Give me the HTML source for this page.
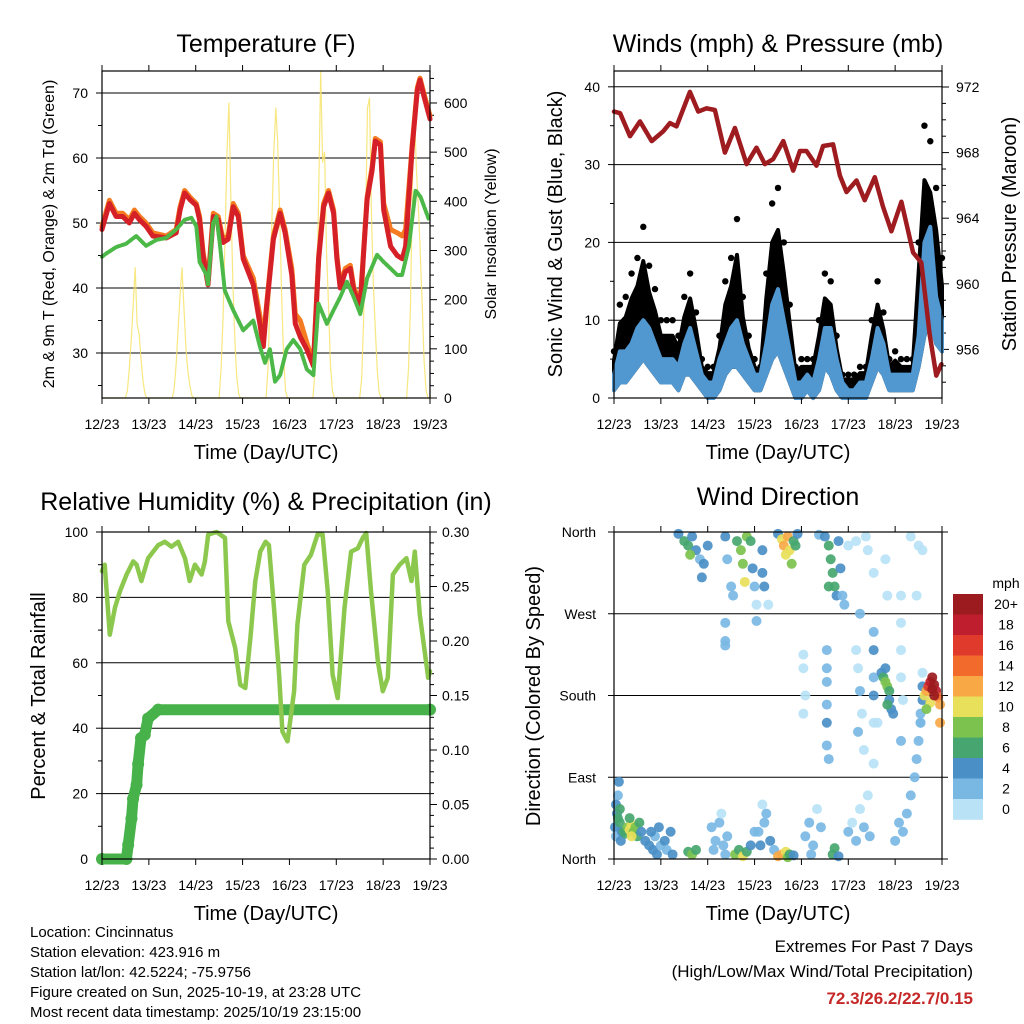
<!DOCTYPE html>
<html><head><meta charset="utf-8"><style>
html,body{margin:0;padding:0;background:#fff;}
svg{display:block;font-family:"Liberation Sans",Arial,sans-serif;}
</style></head><body>
<svg id="c" width="1024" height="1024" viewBox="0 0 1024 1024" xmlns="http://www.w3.org/2000/svg"></svg>
<script>
// ---------- Temperature ----------
const tempHours=[0,3.8,7.2,10.6,14,16.6,19.2,22.6,26,33,38,40,42.3,45,48.3,50,51.8,54.3,57,59.5,62,64.6,67.2,69.8,72.3,77.5,81,82.6,84.3,87.8,91.2,93.8,97.2,99,101.5,105,108.3,111,113.5,116,118.6,120.3,122,124.6,127.2,129,132.3,135.8,138.3,140,142.6,144.3,147.8,151.2,153.8,155.5,158.9,161.5,162.9,165,168];
const tempRed=[49,53,51,51,50,51.5,50.5,49.5,48,47.7,48.5,52,54.6,53.6,52.7,50.5,45,40.5,51,50.5,47,47.5,52.5,51,44.5,40.5,34.3,31,37,47.5,51.5,48.5,42,34.5,32.5,30.5,28,44.5,52.5,54.6,51.5,44.5,40,42.5,43,39.5,37.5,53.6,58,62.6,62,52,46.4,45,44.5,46.4,61.6,70.4,72,69.4,66];
const tempOrange=[49.5,53.5,51.5,51.5,50.5,52,51,50,48.5,48,49,52.5,55,54,53,51,45.5,41,51.5,51,47.5,48,53,51.5,45,41.5,35.5,32,37.5,48,52,49,43,36,35,31.5,28.5,45,53,55,52,45,40.5,43,43.5,40,38,54,58.5,63,62.5,53,49,48.5,48,49,62,70.8,72.3,69.8,66.5];
const dewHours=[0,2.1,7.2,12.3,17.5,22.6,27.8,32.9,38,42.3,45.8,48.3,50,53.5,54.3,56.9,58.6,60.3,62.9,67.2,72.3,77.5,80.9,83.5,86,88.6,91.2,94.6,98,101.5,104.9,108.3,110.9,115.2,118.6,122,125.5,128.9,132.3,135.8,140.9,144.3,147.8,151.2,153.7,157.2,160.6,163.2,167.5];
const dewVals=[44.8,45.3,46.3,46.8,48,46.5,47.4,47.7,49,50.5,50.8,49.5,44,42,40.5,50,51,47,39.6,36.6,33.5,35,31,28.5,30.6,25.6,26.6,30.6,32,30.6,27.5,26.6,37.6,34.5,36.6,38.6,41,38.6,36,41.5,45.1,44,43,42,42,46.4,55,54,50.5];
const solarVals=[
0,0,0,0,0,0,0,0,0,0,0,0, 0,15,60,120,190,265,150,130,80,35,8,0,
0,0,0,0,0,0,0,0,0,0,0,0, 0,20,70,140,210,265,180,100,55,25,5,0,
0,0,0,0,0,0,0,0,0,0,0,0, 0,60,160,320,500,600,400,240,120,45,8,0,
0,0,0,0,0,0,0,0,0,0,0,0, 0,60,200,360,500,590,520,370,210,85,15,0,
0,0,0,0,0,0,0,0,0,0,0,0, 0,50,200,420,665,480,500,300,190,70,15,0,
0,0,0,0,0,0,0,0,0,0,0,0, 0,40,160,360,590,610,380,230,140,55,10,0,
0,0,0,0,0,0,0,0,0,0,0,0, 0,60,190,430,590,470,390,300,190,75,15,0,
0];
const tempTicks=[30,40,50,60,70];
const solarTicks=[0,100,200,300,400,500,600];
const dayLabels=["12/23","13/23","14/23","15/23","16/23","17/23","18/23","19/23"];
// ---------- Winds ----------
const windHours=[0,3,6,9,12,15,18,21,24,27,30,33,36,39,42,45,48,51,54,57,60,63,66,69,72,75,78,81,84,87,90,93,96,99,102,105,108,111,114,117,120,123,126,129,132,135,138,141,144,147,150,153,156,159,162,165,168];
const windHi=[3,6,6,7,9,10,9,7,5,5,5,4,7,9,6,3,2,2,5,7,9,10,7,5,3,3,7,12,14,10,6,2,2,3,2,5,9,9,5,2,1,1,2,2,5,9,7,3,3,3,3,3,8,20,22,13,10];
const windLo=[1,2,2,3,4,5,4,3,2,2,2,1,3,3,2,1,0,0,1,3,4,4,3,2,1,1,3,5,6,4,2,0,0,1,0,1,4,3,1,0,0,0,0,0,2,4,3,1,1,1,1,1,4,8,10,7,6];
const gustHi=[6,12,13,16,18,22,17,14,10,10,10,8,13,16,11,5,4,4,8,15,18,23,13,8,5,4,16,25,27,20,12,4,5,5,5,10,16,15,8,3,3,3,4,4,10,15,11,5,6,5,5,5,20,35,33,27,18];
const presHours=[0,3.1,8.2,13.3,19.3,25.2,28.7,32,38.9,43.2,47.4,51.7,56.8,61.9,67.9,73,77.3,81.5,86.7,91.8,95.2,98.6,103.7,107.1,112.2,115.7,119.1,124.2,128.4,133.6,137.8,142.1,147.2,153.2,157.4,161.7,165.1,167.7];
const presVals=[970.5,970.4,969,969.9,968.7,969.3,969.8,969.6,971.7,970.5,970.7,970.6,968,969.5,967.3,968.3,967.3,967.6,968.7,966.9,968.1,968.1,967.2,968.4,968.5,966.6,965.6,966.3,965.1,966.5,964.7,963.2,965,961.9,961.3,956.9,954.4,955.1];
const windTicks=[0,10,20,30,40];
const presTicks=[956,960,964,968,972];
// ---------- RH & precip ----------
const rhHours=[0,1.4,4,6.6,9.2,12.6,16,17.7,20.2,23.6,28.8,32.2,35.6,39,42.5,44.9,47.6,51,52.7,54.4,58.7,63,64.7,68.2,70.8,73.4,76,78.5,81.1,83.8,85.5,88.1,90.7,92.4,95,98.4,100.1,103.6,107,110.4,113,115.6,118.1,120.7,124.2,127.6,131,133.6,135.3,137.8,141.3,143.8,146.4,149,152.5,155.9,158.5,160.2,162.8,167.1,168];
const rhVals=[88,90,68.6,76.8,81.9,87,91,90,85,92,96,97,95.5,97,92,85,90,87,91,99.2,100,98.2,72.7,64.5,53.3,52.3,67.6,85,94,97,96,76.8,56.4,39,36,51.3,71.7,90,93,99.2,99.2,81.9,56.4,49.2,76.8,94,95,98.2,99.7,81.9,60.4,51.3,55.4,87,90,92,85,94,74.7,55.4,57.4];
const rainHours=[0,12.5,13.4,15.1,15.9,17.7,18.5,20,21.9,23.6,28.8,168];
const rainVals=[0,0,0.013,0.037,0.055,0.068,0.087,0.111,0.114,0.129,0.137,0.137];
const rhTicks=[0,20,40,60,80,100];
const rainTicks=[0,0.05,0.10,0.15,0.20,0.25,0.30];
// ---------- Wind direction ----------
const wdHours=[0.5,1,1.5,2,2.5,1,2,3,3,4,3.5,5,6,7,8,9,10,11,12,13,14,9,8,16,18,20,21,19,22,24,23,38,40,42,26,27,29,30,50,52,54,56,55,58,51,57,62,64,66,68,70,72,74,75,77,78,80,82,76,84,86,88,89,90,92,98,100,102,104,106,101,112,113,115,120,122,124,126,128,130,131,144,146,148,150,152,154,155,156,157,
33,36,38,40,42,44,46,48,39,45,57,58,60,61,63,65,66,67,68,70,71,72,57,57,57,73,73,76,76,77,79,84,86,87,88,89,90,91,92,93,94,105,108,110,111,112,113,114,115,116,117,118,110,120,124,129,130,133,126,135,139,140,
109,109,109,109,109,109,110,97,97,98,97,124,125,126,127,125,128,133,133,133,133,133,133,137,138,139,140,141,141,142,143,140,139,147,147,147,147,148,147,157,157,158,158,158,159,160,161,162,163,164,165,166,167,162,160,167,164,163,152,156,158,155];
const wdDirs=[35,25,50,70,85,60,45,40,55,30,20,30,28,35,32,38,30,35,25,40,30,25,45,20,15,10,25,30,5,15,35,8,5,10,20,10,30,5,35,20,40,15,50,25,10,5,5,10,3,8,15,30,30,15,40,50,20,10,60,3,5,8,2,5,4,25,40,15,55,35,5,5,12,3,30,40,20,55,35,70,25,20,40,30,50,70,90,110,130,150,
358,350,345,355,340,330,325,345,335,310,355,330,300,290,350,340,325,305,355,350,320,300,260,240,235,280,262,340,315,300,280,358,352,345,335,355,340,325,350,345,358,357,355,345,330,315,300,290,350,320,290,280,300,345,350,355,340,315,270,150,330,290,
230,210,195,170,150,125,110,225,210,180,160,230,210,185,160,140,120,250,230,200,180,150,105,205,200,195,190,185,175,165,160,170,210,290,260,230,200,175,130,150,160,175,190,205,180,185,190,195,200,192,185,178,170,172,165,150,180,187,355,345,340,290];
const wdSpeeds=[4,3,4,3,4,5,6,6,7,5,4,6,7,8,10,10,9,8,7,6,5,11,6,4,4,4,3,4,4,3,4,7,8,6,4,3,4,4,2,2,2,2,1,2,2,2,8,7,10,6,4,3,3,4,3,2,4,3,1,12,13,10,8,6,4,2,2,3,1,3,3,7,6,4,2,1,2,1,2,1,2,3,2,3,2,2,2,2,3,3,
4,6,7,5,4,3,4,4,8,4,4,3,3,2,6,8,9,10,9,6,4,2,3,3,2,1,2,4,4,4,1,4,10,12,11,13,10,8,7,6,4,2,5,6,6,7,6,5,4,4,3,2,7,1,1,1,1,1,2,1,1,1,
2,3,3,3,4,3,2,1,1,1,1,1,1,2,1,2,1,3,4,2,4,1,1,5,7,8,9,7,4,5,4,6,5,1,1,1,1,1,3,3,3,4,4,1,10,12,16,18,21,20,18,14,12,10,9,12,22,22,1,1,1,1];
const speedColors=["#b9e2f6","#7ab8e4","#4a8fc6","#47a66f","#7cc24e","#e8e05a","#f9a846","#f26b2d","#e03a2c","#be1e2d","#9b1b1e"];
const speedLabels=["0","2","4","6","8","10","12","14","16","18","20+"];
const dirLabels=["North","East","South","West","North"];
const dirTicks=[0,90,180,270,360];

const NS="http://www.w3.org/2000/svg";
const svg=document.getElementById('c');
function mk(tag,attrs,parent){const e=document.createElementNS(NS,tag);for(const k in attrs)e.setAttribute(k,attrs[k]);(parent||svg).appendChild(e);return e;}
function txt(x,y,s,size,anchor,parent,extra){const t=mk('text',Object.assign({x:x,y:y,'font-size':size,'text-anchor':anchor||'middle',fill:'#000'},extra||{}),parent);t.textContent=s;return t;}

function panel(name,x0,y0,x1,y1){
  const g=mk('g',{});
  
  
  return {g,x0,y0,x1,y1,sx:h=>x0+h/168*(x1-x0)};
}
function xAxis(p){
  for(let d=0;d<=7;d++){
    const x=p.sx(d*24);
    mk('line',{x1:x,y1:p.y0,x2:x,y2:p.y0-6,stroke:'#000','stroke-width':1},p.g);
    mk('line',{x1:x,y1:p.y1,x2:x,y2:p.y1+6,stroke:'#000','stroke-width':1},p.g);
    const t=txt(x,p.y1+31,dayLabels[d],14,'middle',p.g);
    
    
  }
  const t=txt((p.x0+p.x1)/2,p.y1+61,"Time (Day/UTC)",20,'middle',p.g);
  
  
}
function frame(p){mk('rect',{x:p.x0,y:p.y0,width:p.x1-p.x0,height:p.y1-p.y0,fill:'none',stroke:'#000','stroke-width':1.2},p.g);}
function line(p,hs,vs,fy,attrs){
  const pts=hs.map((h,i)=>p.sx(h).toFixed(1)+','+fy(vs[i]).toFixed(1)).join(' ');
  return mk('polyline',Object.assign({points:pts,fill:'none','stroke-linejoin':'round','stroke-linecap':'round'},attrs),p.g);
}

// ===== Panel 1: Temperature =====
{
const p=panel('temperature-panel',102,71,430,398);
const fy=v=>93+(70-v)*6.5, fs=v=>398-v*0.4917;
txt(266,52,"Temperature (F)",25,'middle',p.g);
for(let v=25;v<=70;v+=5){const y=fy(v);mk('line',{x1:p.x0-(v%10==0?6:4),y1:y,x2:p.x0,y2:y,stroke:'#000'},p.g);}
tempTicks.forEach(v=>{const y=fy(v);mk('line',{x1:p.x0,y1:y,x2:p.x1,y2:y,stroke:'#000','stroke-width':1},p.g);
  const t=txt(p.x0-14,y+5,String(v),14,'end',p.g);});
for(let v=0;v<=650;v+=25){const y=fs(v);if(y<p.y0)continue;mk('line',{x1:p.x1,y1:y,x2:p.x1+(v%100==0?7:4),y2:y,stroke:'#000'},p.g);}
solarTicks.forEach(v=>{const t=txt(p.x1+14,fs(v)+5,String(v),14,'start',p.g);});
const sh=solarVals.map((v,i)=>i);
const s=line(p,sh,solarVals,fs,{stroke:'#f7e36a','stroke-width':1.2,opacity:0.85});

const o=line(p,tempHours,tempOrange,fy,{stroke:'#f47b20','stroke-width':5});

const r=line(p,tempHours,tempRed,fy,{stroke:'#d62027','stroke-width':5});

const gr=line(p,dewHours,dewVals,fy,{stroke:'#4cb848','stroke-width':4,'stroke-dasharray':'3 1.5'});

frame(p);xAxis(p);
const l=txt(0,0,"2m & 9m T (Red, Orange) & 2m Td (Green)",16,'middle',p.g,{transform:'translate(54,234) rotate(-90)'});

const l2=txt(0,0,"Solar Insolation (Yellow)",16,'middle',p.g,{transform:'translate(496,234) rotate(-90)'});

}
// ===== Panel 2: Winds =====
{
const p=panel('winds-panel',614,71,942,398);
const fy=v=>398-v*7.78, fp=v=>87+(972-v)*16.4;
txt(778,52,"Winds (mph) & Pressure (mb)",25,'middle',p.g);
for(let v=0;v<=40;v+=5){const y=fy(v);mk('line',{x1:p.x0-(v%10==0?6:4),y1:y,x2:p.x0,y2:y,stroke:'#000'},p.g);}
windTicks.forEach(v=>{const y=fy(v);if(v>0)mk('line',{x1:p.x0,y1:y,x2:p.x1,y2:y,stroke:'#000'},p.g);
  const t=txt(p.x0-14,y+5,String(v),14,'end',p.g);});
for(let v=954;v<=973;v++){const y=fp(v);if(y<p.y0||y>p.y1)continue;mk('line',{x1:p.x1,y1:y,x2:p.x1+(v%4==0?7:4),y2:y,stroke:'#000'},p.g);}
presTicks.forEach(v=>{const t=txt(p.x1+14,fp(v)+5,String(v),14,'start',p.g);});
let pts=windHours.map((h,i)=>p.sx(h)+','+fy(gustHi[i]*0.8)).join(' ')+' '+windHours.slice().reverse().map((h,j)=>{const i=windHours.length-1-j;return p.sx(h)+','+fy(windLo[i]);}).join(' ');
const gc=mk('polygon',{points:pts,fill:'#000','stroke':'#000','stroke-width':4,'stroke-linejoin':'round'},p.g);

windHours.forEach((h,i)=>{const c=mk('circle',{cx:p.sx(h),cy:fy(gustHi[i]),r:3.2,fill:'#000'},p.g);
  });
pts=windHours.map((h,i)=>p.sx(h)+','+fy(windHi[i])).join(' ')+' '+windHours.slice().reverse().map((h,j)=>{const i=windHours.length-1-j;return p.sx(h)+','+fy(windLo[i]);}).join(' ');
const bw=mk('polygon',{points:pts,fill:'#5197d0',stroke:'#5197d0','stroke-width':4,'stroke-linejoin':'round'},p.g);

const pr=line(p,presHours,presVals,fp,{stroke:'#9e1b1f','stroke-width':4.5});

frame(p);xAxis(p);
const l=txt(0,0,"Sonic Wind & Gust (Blue, Black)",20,'middle',p.g,{transform:'translate(562,234) rotate(-90)'});

const l2=txt(0,0,"Station Pressure (Maroon)",20,'middle',p.g,{transform:'translate(1016,234) rotate(-90)'});

}
// ===== Panel 3: RH =====
{
const p=panel('humidity-panel',102,532,430,859);
const fy=v=>859-v*3.27, fr=v=>859-v*1090;
txt(266,510,"Relative Humidity (%) & Precipitation (in)",25,'middle',p.g);
for(let v=0;v<=100;v+=10){const y=fy(v);mk('line',{x1:p.x0-(v%20==0?6:4),y1:y,x2:p.x0,y2:y,stroke:'#000'},p.g);}
rhTicks.forEach(v=>{const y=fy(v);if(v>0&&v<100)mk('line',{x1:p.x0,y1:y,x2:p.x1,y2:y,stroke:'#000'},p.g);
  const t=txt(p.x0-14,y+5,String(v),14,'end',p.g);});
for(let v=0;v<=0.3001;v+=0.01){const y=fr(v);mk('line',{x1:p.x1,y1:y,x2:p.x1+(Math.round(v*100)%5==0?7:4),y2:y,stroke:'#000'},p.g);}
rainTicks.forEach(v=>{const t=txt(p.x1+12,fr(v)+5,v.toFixed(2),14,'start',p.g);});
const rl=line(p,rainHours,rainVals,fr,{stroke:'#47b14a','stroke-width':11});

rainHours.forEach((h,i)=>{const c=mk('circle',{cx:p.sx(h),cy:fr(rainVals[i]),r:6,fill:'#47b14a'},p.g);
  });
const rh=line(p,rhHours,rhVals,fy,{stroke:'#8dc84e','stroke-width':4.5});

frame(p);xAxis(p);
const l=txt(0,0,"Percent & Total Rainfall",20,'middle',p.g,{transform:'translate(45,696) rotate(-90)'});

}
// ===== Panel 4: Wind direction =====
{
const p=panel('wind-direction-panel',614,532,942,859);
const fy=v=>859-v*0.9083;
txt(778,505,"Wind Direction",25,'middle',p.g);
dirTicks.forEach((v,i)=>{const y=fy(v);mk('line',{x1:p.x0-6,y1:y,x2:p.x1+6,y2:y,stroke:'#000'},p.g);
  const t=txt(p.x0-18,y+5,dirLabels[i],14,'end',p.g);});
wdHours.forEach((h,i)=>{const ci=Math.min(10,Math.floor(wdSpeeds[i]/2));
  const c=mk('circle',{cx:p.sx(h),cy:fy(wdDirs[i]),r:5,fill:speedColors[ci],opacity:0.92},p.g);
  });
frame(p);xAxis(p);
const l=txt(0,0,"Direction (Colored By Speed)",20,'middle',p.g,{transform:'translate(540,696) rotate(-90)'});

const cb=mk('g',{});

txt(1006,588,"mph",14,'middle',cb);
const top=594,h=20.5;
for(let k=0;k<11;k++){const idx=10-k;const y=top+k*h;
  const r=mk('rect',{x:953,y:y,width:30,height:h+0.3,fill:speedColors[idx]},cb);
  
  txt(1006,y+15,speedLabels[idx],14,'middle',cb);}
}
// ===== Footer =====
{
const g=mk('g',{});

["Location: Cincinnatus","Station elevation: 423.916 m","Station lat/lon: 42.5224; -75.9756","Figure created on Sun, 2025-10-19, at 23:28 UTC","Most recent data timestamp: 2025/10/19 23:15:00"].forEach((s,i)=>txt(30,937+i*20,s,15,'start',g));
const g2=mk('g',{});

txt(973,952,"Extremes For Past 7 Days",17,'end',g2);
txt(973,977,"(High/Low/Max Wind/Total Precipitation)",17,'end',g2);
txt(973,1004,"72.3/26.2/22.7/0.15",17,'end',g2,{fill:'#c62828','font-weight':'bold'});
}
</script>
</body></html>
